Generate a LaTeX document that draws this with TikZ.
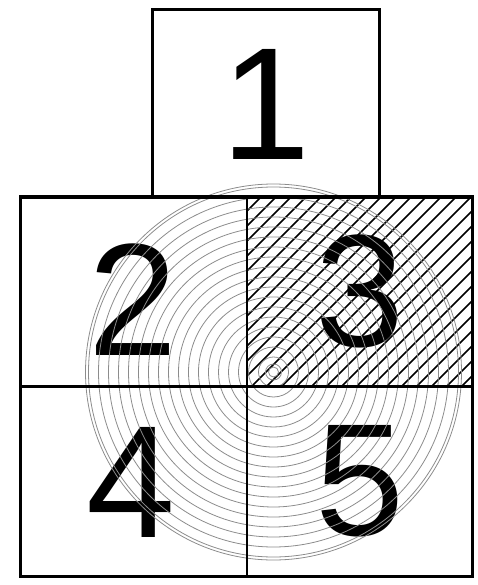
\documentclass[tikz,border=0pt]{standalone}
\usepackage{fontspec}
\setmainfont{Liberation Sans}
\begin{document}
\begin{tikzpicture}[x=1pt,y=-1pt,
  digit/.style={font=\fontsize{160}{160}\selectfont, inner sep=0pt, text=black},
  frame/.style={draw=black, line width=3pt},
  divider/.style={draw=black, line width=2.2pt},
  ring/.style={draw=black!45, line width=0.8pt},
  hatch/.style={draw=black, line width=1.5pt}]
\useasboundingbox (0,0) rectangle (478,585);
% key points
\coordinate (c) at (273.5,372);
% digits
\node[digit] (n1) at (265.5,104) {1};
\node[digit] (n2) at (133,300) {2};
\node[digit] (n3) at (360,291.5) {3};
\node[digit] (n4) at (131,482) {4};
\node[digit] (n5) at (360,481.5) {5};
% hatching in cell 3
\begin{scope}
  \clip (247,197) rectangle (473,387);
  \foreach \k in {0,...,34} {
    \draw[hatch] (-2+15*\k,400) -- ++(240,-240);
  }
\end{scope}
% concentric rings
\foreach \r in {5,8,15,25,35,45,55,65,75,85,95,105,115,125,135,145,155,165,175,185,188}
  \draw[ring] (c) circle[radius=\r];
% frames
\draw[frame] (152,197) -- (152,9.5) -- (379,9.5) -- (379,197);
\draw[frame] (20,197) rectangle (472.5,576.5);
\draw[divider] (247,197) -- (247,576.5);
\draw[divider] (20,386.5) -- (472.5,386.5);
\end{tikzpicture}
\end{document}
